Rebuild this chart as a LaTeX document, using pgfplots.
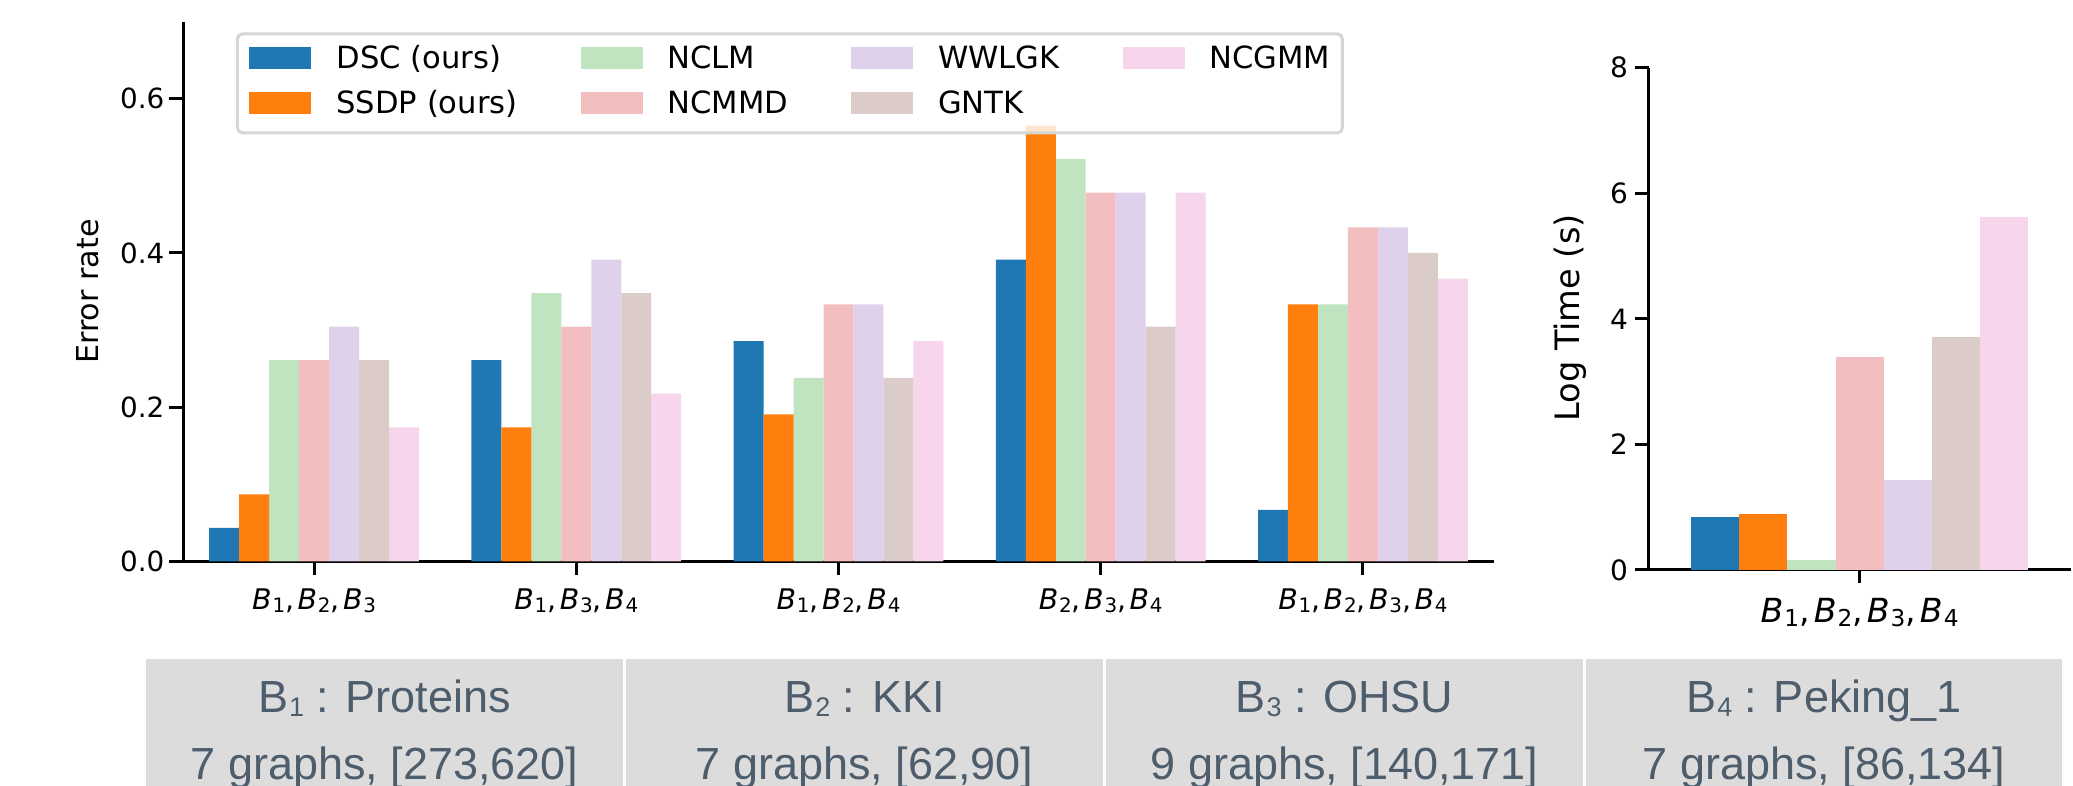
\documentclass[border=0pt]{standalone}
\usepackage{pgfplots}
\usepackage{pgfplotstable}
\pgfplotsset{compat=1.18}
\usepackage{fontspec}
\setmainfont{DejaVu Sans}
\newfontfamily\arial{Liberation Sans}

\definecolor{cDSC}{HTML}{1F77B4}
\definecolor{cSSDP}{HTML}{FF7F0E}
\definecolor{cNCLM}{HTML}{C0E3C0}
\definecolor{cNCMMD}{HTML}{F3BEBF}
\definecolor{cWWLGK}{HTML}{DFD1EB}
\definecolor{cGNTK}{HTML}{DCCCC9}
\definecolor{cNCGMM}{HTML}{F7D6ED}
\definecolor{tabletext}{HTML}{4E5D6C}
\definecolor{tablefill}{HTML}{DCDCDC}
\definecolor{legedge}{HTML}{D6D6D6}

\newcommand{\Bm}[1]{\textit{B}\kern0.03em\raisebox{-0.12em}{\scalebox{0.7}{#1}}}
\newcommand{\cm}{,\kern0.12em}
\newcommand{\labA}{\Bm{1}\cm\Bm{2}\cm\Bm{3}}
\newcommand{\labB}{\Bm{1}\cm\Bm{3}\cm\Bm{4}}
\newcommand{\labC}{\Bm{1}\cm\Bm{2}\cm\Bm{4}}
\newcommand{\labD}{\Bm{2}\cm\Bm{3}\cm\Bm{4}}
\newcommand{\labE}{\Bm{1}\cm\Bm{2}\cm\Bm{3}\cm\Bm{4}}
\newcommand{\Bsub}[1]{B\kern0.02em\raisebox{-0.08em}{\fontsize{13.5}{13.5}\selectfont #1}}

\pgfplotstableread{
x DSC SSDP NCLM NCMMD WWLGK GNTK NCGMM
0 0.0435 0.0870 0.2609 0.2609 0.3043 0.2609 0.1739
1 0.2609 0.1739 0.3478 0.3043 0.3913 0.3478 0.2174
2 0.2857 0.1905 0.2381 0.3333 0.3333 0.2381 0.2857
3 0.3913 0.5652 0.5217 0.4783 0.4783 0.3043 0.4783
4 0.0667 0.3333 0.3333 0.4333 0.4333 0.4000 0.3667
}\errtab

\pgfplotstableread{
x DSC SSDP NCLM NCMMD WWLGK GNTK NCGMM
0 0.84 0.89 0.16 3.39 1.43 3.71 5.62
}\timetab

\pgfplotsset{
  mybar/.style={ybar, bar width=0.1142857, draw=none, fill=#1},
  baseaxis/.style={
    scale only axis,
    axis x line*=bottom, axis y line*=left,
    axis line style={line width=1.5pt, black},
    tick style={line width=1.5pt, black},
    major tick style={line width=1.5pt, black},
    major tick length=6.75pt, tick align=outside,
    legend image code/.code={\fill[##1, sharp corners, fill opacity=1, draw=none] (0pt,-4pt) rectangle (31pt,7.15pt);},
  },
}

\begin{document}
\begin{tikzpicture}
\clip (0,0) rectangle (1036.5pt,393pt);
\path[use as bounding box] (0,0) rectangle (1036.5pt,393pt);

% ---------------- left: error rate ----------------
\begin{axis}[baseaxis,
  at={(91.5pt,112.3pt)}, anchor=south west,
  width=655.5pt, height=269.9pt,
  xmin=-0.5, xmax=4.5, ymin=0, ymax=0.7,
  xtick={0,1,2,3,4}, xticklabels={\labA,\labB,\labC,\labD,\labE},
  ytick={0,0.2,0.4,0.6}, yticklabels={0.0,0.2,0.4,0.6},
  xticklabel style={anchor=base, font=\fontsize{14.2}{14.2}\selectfont, yshift=-17.3pt},
  yticklabel style={font=\fontsize{13.9}{13.9}\selectfont, xshift=1pt},
  ylabel={Error rate},
  ylabel style={at={(axis description cs:-0.0641,0.5)}, anchor=base, font=\fontsize{15.1}{15.1}\selectfont},
  legend style={
    at={(axis description cs:0.0404,0.98)}, anchor=north west,
    draw=legedge, line width=1.5pt, rounded corners=2.5pt,
    fill=white, fill opacity=0.8, text opacity=1,
    inner xsep=6pt, inner ysep=6pt,
    font=\fontsize{15.3}{15.3}\selectfont,
    column sep=12.5pt,
    /tikz/every even column/.append style={column sep=31.5pt},
    row sep=7.5pt,
    nodes={inner sep=0pt, text height=11.5pt, text depth=3.5pt},
  },
  legend columns=4, legend cell align=left,
]
\addplot[mybar=cDSC,   bar shift=-0.342857] table[x=x,y=DSC]   {\errtab};
\addlegendentry{DSC (ours)}
\addplot[mybar=cNCLM,  bar shift=-0.114286] table[x=x,y=NCLM]  {\errtab};
\addlegendentry{NCLM}
\addplot[mybar=cWWLGK, bar shift=0.114286]  table[x=x,y=WWLGK] {\errtab};
\addlegendentry{WWLGK}
\addplot[mybar=cNCGMM, bar shift=0.342857]  table[x=x,y=NCGMM] {\errtab};
\addlegendentry{NCGMM}
\addplot[mybar=cSSDP,  bar shift=-0.228571] table[x=x,y=SSDP]  {\errtab};
\addlegendentry{SSDP (ours)}
\addplot[mybar=cNCMMD, bar shift=0]         table[x=x,y=NCMMD] {\errtab};
\addlegendentry{NCMMD}
\addplot[mybar=cGNTK,  bar shift=0.228571]  table[x=x,y=GNTK]  {\errtab};
\addlegendentry{GNTK}
\end{axis}

% ---------------- right: log time ----------------
\begin{axis}[baseaxis,
  at={(824.3pt,108pt)}, anchor=south west,
  width=211pt, height=251.2pt,
  xmin=-0.5, xmax=0.5, ymin=0, ymax=8,
  xtick={0}, xticklabels={\labE},
  ytick={0,2,4,6,8}, yticklabels={0,2,4,6,8},
  xticklabel style={anchor=base, font=\fontsize{16.6}{16.6}\selectfont, yshift=-19.3pt},
  yticklabel style={font=\fontsize{14}{14}\selectfont},
  ylabel={Log Time (s)},
  ylabel style={at={(axis description cs:-0.1626,0.5016)}, anchor=base, font=\fontsize{16.8}{16.8}\selectfont},
]
\addplot[mybar=cDSC,   bar shift=-0.342857] table[x=x,y=DSC]   {\timetab};
\addplot[mybar=cSSDP,  bar shift=-0.228571] table[x=x,y=SSDP]  {\timetab};
\addplot[mybar=cNCLM,  bar shift=-0.114286] table[x=x,y=NCLM]  {\timetab};
\addplot[mybar=cNCMMD, bar shift=0]         table[x=x,y=NCMMD] {\timetab};
\addplot[mybar=cWWLGK, bar shift=0.114286]  table[x=x,y=WWLGK] {\timetab};
\addplot[mybar=cGNTK,  bar shift=0.228571]  table[x=x,y=GNTK]  {\timetab};
\addplot[mybar=cNCGMM, bar shift=0.342857]  table[x=x,y=NCGMM] {\timetab};
\end{axis}

% ---------------- bottom table ----------------
\fill[tablefill] (73pt,0pt) rectangle (311.5pt,63.5pt);
\fill[tablefill] (313pt,0pt) rectangle (551.5pt,63.5pt);
\fill[tablefill] (553pt,0pt) rectangle (791.5pt,63.5pt);
\fill[tablefill] (793pt,0pt) rectangle (1031pt,63.5pt);
\begin{scope}[every node/.style={anchor=base, text=tabletext, inner sep=0pt, font=\arial\fontsize{22.5}{22.5}\selectfont}]
\node at (192.25pt,36.65pt) {\Bsub{1} : Proteins};
\node at (192.25pt,3pt) {7 graphs, [273,620]};
\node at (432.25pt,36.65pt) {\Bsub{2} : KKI};
\node at (432.25pt,3pt) {7 graphs, [62,90]};
\node at (672.25pt,36.65pt) {\Bsub{3} : OHSU};
\node at (672.25pt,3pt) {9 graphs, [140,171]};
\node at (912pt,36.65pt) {\Bsub{4} : Peking\_1};
\node at (912pt,3pt) {7 graphs, [86,134]};
\end{scope}
\end{tikzpicture}
\end{document}
